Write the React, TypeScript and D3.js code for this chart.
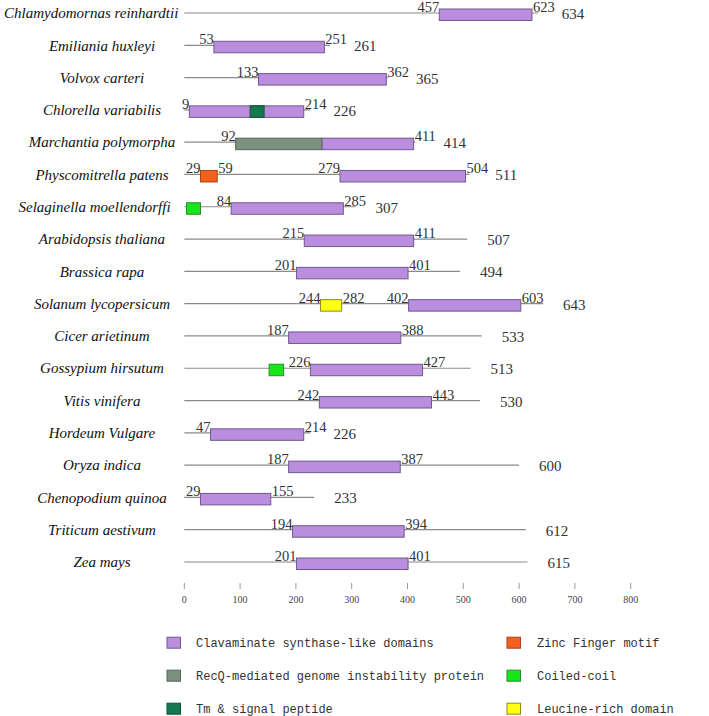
import React from "react";
import * as d3 from "d3";

const species = [
  "Chlamydomornas reinhardtii",
  "Emiliania huxleyi",
  "Volvox carteri",
  "Chlorella variabilis",
  "Marchantia polymorpha",
  "Physcomitrella patens",
  "Selaginella moellendorffi",
  "Arabidopsis thaliana",
  "Brassica rapa",
  "Solanum lycopersicum",
  "Cicer arietinum",
  "Gossypium hirsutum",
  "Vitis vinifera",
  "Hordeum Vulgare",
  "Oryza indica",
  "Chenopodium quinoa",
  "Triticum aestivum",
  "Zea mays",
];

const proteinLength = [634, 261, 365, 226, 414, 511, 307, 507, 494, 643, 533, 513, 530, 226, 600, 233, 612, 615];
const cslStart = [457, 53, 133, 9, 247, 279, 84, 215, 201, 402, 187, 226, 242, 47, 187, 29, 194, 201];
const cslEnd = [623, 251, 362, 214, 411, 504, 285, 411, 401, 603, 388, 427, 443, 214, 387, 155, 394, 401];

// other domains: [species index, type, start, end, labeled]
const otherDomains: [number, string, number, number, boolean][] = [
  [3, "Tm", 118, 143, false],
  [4, "RecQ", 92, 247, true],
  [5, "Zinc", 29, 59, true],
  [6, "Coil", 4, 29, false],
  [9, "Leucine", 244, 282, true],
  [11, "Coil", 152, 178, false],
];

const axisTicks = [0, 100, 200, 300, 400, 500, 600, 700, 800];

const legendKeys = ["CSL", "RecQ", "Tm", "Zinc", "Coil", "Leucine"];
const legendLabels = [
  "Clavaminate synthase-like domains",
  "RecQ-mediated genome instability protein",
  "Tm & signal peptide",
  "Zinc Finger motif",
  "Coiled-coil",
  "Leucine-rich domain",
];

const fills: Record<string, string> = {
  CSL: "#bb8ddf",
  RecQ: "#7b917f",
  Tm: "#137a4f",
  Zinc: "#f4611c",
  Coil: "#16e61a",
  Leucine: "#ffff10",
};
const strokes: Record<string, string> = {
  CSL: "#6f5a8c",
  RecQ: "#55665a",
  Tm: "#0d5536",
  Zinc: "#a5451a",
  Coil: "#2a8a2a",
  Leucine: "#8c8c20",
};

const W = 709;
const H = 716;
const serif = "'Liberation Serif', 'Times New Roman', serif";
const mono = "'Liberation Mono', 'Courier New', monospace";

export default function App() {
  const x = d3.scaleLinear().domain([0, 800]).range([184.3, 630.7]);
  const y = d3.scalePoint<string>().domain(species).range([13, 562]);
  const boxTop = -4;
  const boxH = 11.5;
  const numSize = 14.5;
  const spSize = 15;
  const endLabelW = numSize * 0.5 * 3;

  return (
    <svg width={W} height={H} style={{ position: "absolute", left: 0, top: 0, background: "#fff" }}>
      {species.map((sp, i) => {
        const ly = y(sp)!;
        const len = proteinLength[i];
        const others = otherDomains.filter((d) => d[0] === i);
        const cslStartLabeled = !others.some((d) => d[3] === cslStart[i]);
        const lenX = Math.max(x(len) + 20, x(cslEnd[i]) + endLabelW + 8);
        const estW = sp.length * 0.445 * spSize;
        const cx = Math.min(102, 178 - estW / 2);
        return (
          <g key={sp}>
            <text
              x={cx}
              y={ly}
              dy="0.35em"
              textAnchor="middle"
              fontFamily={serif}
              fontStyle="italic"
              fontSize={spSize}
              fill="#111"
            >
              {sp}
            </text>
            <line x1={x(0)} x2={x(len)} y1={ly} y2={ly} stroke="#8a8a8a" strokeWidth={1.2} />
            {others.map((d, k) => (
              <rect
                key={"o" + k}
                x={x(d[2])}
                y={ly + boxTop}
                width={x(d[3]) - x(d[2])}
                height={boxH}
                fill={fills[d[1]]}
                stroke={strokes[d[1]]}
                strokeWidth={1}
              />
            ))}
            <rect
              x={x(cslStart[i])}
              y={ly + boxTop}
              width={x(cslEnd[i]) - x(cslStart[i])}
              height={boxH}
              fill={fills.CSL}
              stroke={strokes.CSL}
              strokeWidth={1}
            />
            {others.map((d, k) => (d[1] === "Tm" ? (
              <rect
                key={"t" + k}
                x={x(d[2])}
                y={ly + boxTop}
                width={x(d[3]) - x(d[2])}
                height={boxH}
                fill={fills[d[1]]}
                stroke={strokes[d[1]]}
                strokeWidth={1}
              />
            ) : null))}
            {others
              .filter((d) => d[4])
              .map((d, k) => (
                <g key={"l" + k}>
                  <text x={x(d[2])} y={ly - 1} textAnchor="end" fontFamily={serif} fontSize={numSize} fill="#333">
                    {d[2]}
                  </text>
                  {d[3] !== cslStart[i] && (
                    <text x={x(d[3]) + 1} y={ly - 1} textAnchor="start" fontFamily={serif} fontSize={numSize} fill="#333">
                      {d[3]}
                    </text>
                  )}
                </g>
              ))}
            {cslStartLabeled && (
              <text x={x(cslStart[i])} y={ly - 1} textAnchor="end" fontFamily={serif} fontSize={numSize} fill="#333">
                {cslStart[i]}
              </text>
            )}
            <text x={x(cslEnd[i]) + 1} y={ly - 1} textAnchor="start" fontFamily={serif} fontSize={numSize} fill="#333">
              {cslEnd[i]}
            </text>
            <text x={lenX} y={ly} dy="0.4em" textAnchor="start" fontFamily={serif} fontSize={15} fill="#333">
              {len}
            </text>
          </g>
        );
      })}

      <g>
        {axisTicks.map((t) => (
          <g key={t} transform={`translate(${x(t)},0)`}>
            <line y1={583} y2={589} stroke="#9a9a9a" strokeWidth={1} />
            <text y={599} dy="0.35em" textAnchor="middle" fontFamily={serif} fontSize={10} fill="#444">
              {t}
            </text>
          </g>
        ))}
      </g>

      <g>
        {legendKeys.map((k, i) => {
          const col = Math.floor(i / 3);
          const row = i % 3;
          const sx = col === 0 ? 167 : 507;
          const tx = col === 0 ? 196 : 537;
          const cy = 642.7 + row * 33;
          return (
            <g key={k}>
              <rect x={sx} y={cy - 5.5} width={13.5} height={11} fill={fills[k]} stroke={strokes[k]} strokeWidth={1} />
              <text x={tx} y={cy} dy="0.35em" fontFamily={mono} fontSize={12} fill="#333">
                {legendLabels[i]}
              </text>
            </g>
          );
        })}
      </g>
    </svg>
  );
}
